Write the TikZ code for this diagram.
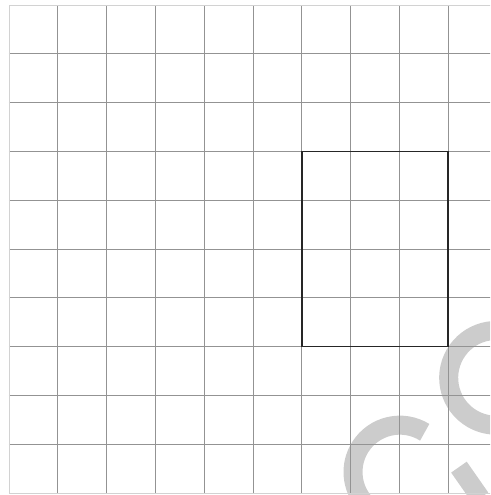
\documentclass[tikz,border=0pt]{standalone}

\begin{document}

\begin{tikzpicture}[
    x=1cm, y=1cm,
    gridline/.style={gray!85, line width=0.45pt},
    gridedge/.style={gray!35, line width=0.45pt},
    mark arc/.style={gray!40, line width=0.39cm},
    outline/.style={black!85, line width=0.9pt}
  ]

  \useasboundingbox (-0.184,-0.041) rectangle (9.857,10.102);
  \clip (-0.184,-0.041) rectangle (9.857,10.102);

  % watermark
  \coordinate (bigc) at (9.98,2.36);
  \coordinate (smallc) at (8.01,0.43);
  \coordinate (tailtop) at (9.22,0.53);
  \coordinate (tailend) at (9.66,-0.10);
  \draw[mark arc] ([shift={(60:0.97)}]bigc) arc[start angle=60, end angle=300, radius=0.97];
  \draw[mark arc] ([shift={(58:0.96)}]smallc) arc[start angle=58, end angle=260, radius=0.96];
  \draw[mark arc] (tailtop) -- (tailend);

  % grid
  \foreach \x in {1,...,9}
    \draw[gridline] (\x,0) -- (\x,10);
  \foreach \y in {1,...,9}
    \draw[gridline] (0,\y) -- (10,\y);
  \draw[gridedge] (10,0) -- (0,0) -- (0,10) -- (10,10);

  % box
  \draw[outline] (6,3) rectangle (9,7);

\end{tikzpicture}

\end{document}
